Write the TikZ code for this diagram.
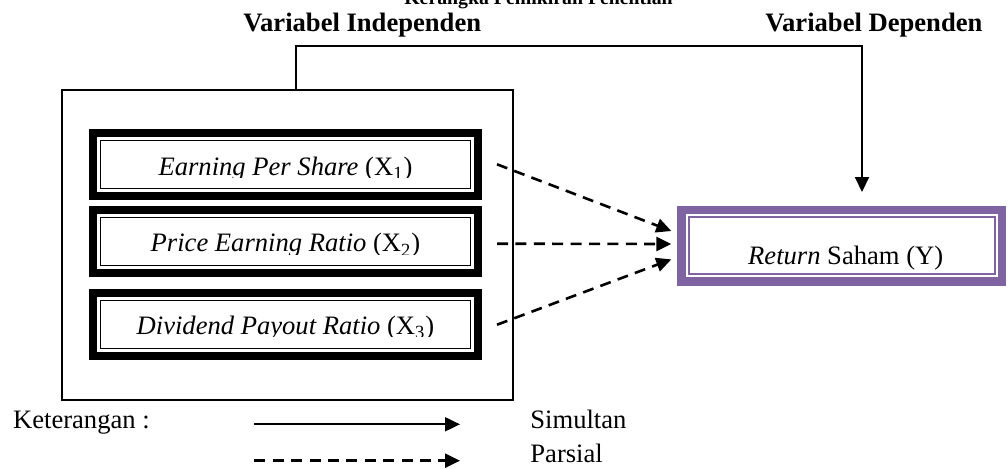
\documentclass[tikz,border=0pt]{standalone}
\usepackage{fontspec}
\setmainfont{Liberation Serif}
\usetikzlibrary{arrows.meta}

\definecolor{ungu}{RGB}{128,100,162}
\newcommand\ukuran{\fontsize{13.3}{16}\selectfont}

\begin{document}
\begin{tikzpicture}[x=0.5pt,y=0.5pt,
   teks/.style={font=\ukuran, inner sep=0pt, anchor=base west},
   tebal/.style={font=\ukuran\bfseries, inner sep=0pt, anchor=base west},
   varbox/.style={draw, line width=4pt, outer sep=0pt, inner sep=0pt,
      minimum width=192.2pt, minimum height=31.25pt},
   retbox/.style={draw=ungu, line width=4.2pt, outer sep=0pt, inner sep=0pt,
      minimum width=160.3pt, minimum height=35.8pt},
   simultan/.style={line width=1pt, -{Triangle[length=7.5pt,width=7pt]}},
   parsial/.style={line width=1.3pt, dash pattern=on 5.5pt off 3.7pt,
      -{Triangle[length=7.5pt,width=7pt]}}]
   \useasboundingbox (0,0) rectangle (1008,468);

   % headings
   \node[tebal, anchor=base, font=\fontsize{9.9}{12}\selectfont\bfseries] (judul) at (538.5,464) {Kerangka Pemikiran Penelitian};
   \node[tebal] (indeplbl) at (243,436.3) {Variabel Independen};
   \node[tebal] (deplbl) at (765,436.3) {Variabel Dependen};

   % independent variables
   \node[draw, line width=0.8pt, outer sep=0pt, minimum width=225.65pt, minimum height=155pt] (indep) at (287.35,223) {};
   \node[varbox] (eps) at (285.5,303.7) {};
   \node[varbox] (per) at (285.5,226.3) {};
   \node[varbox] (dpr) at (285.5,143.3) {};
   \foreach \b in {eps,per,dpr}
      \draw[line width=0.7pt] ([shift={(7.2,7.2)}]\b.south west) rectangle ([shift={(-7.2,-7.2)}]\b.north east);

   \foreach \b/\y/\t in {eps/293/{\textit{Earning Per Share} (X\textsubscript{1})},
                         per/216.3/{\textit{Price Earning Ratio} (X\textsubscript{2})},
                         dpr/134/{\textit{Dividend Payout Ratio} (X\textsubscript{3})}}
   {
      \begin{scope}
         \clip (\b.north west) rectangle (\b.east |- 0,\y-2.5);
         \node[teks, anchor=base] (\b-teks) at (285.5,\y) {\t};
      \end{scope}
   }

   % dependent variable
   \node[retbox] (ret) at (841.8,222.4) {};
   \draw[ungu, line width=1pt] ([shift={(7.6,7.6)}]ret.south west) rectangle ([shift={(-7.6,-7.6)}]ret.north east);
   \node[teks, anchor=base] (ret-teks) at (845.7,203.5) {\textit{Return} Saham (Y)};

   % arrows
   \coordinate (ujung) at (862,276);
   \draw[simultan] ([xshift=4.3pt]indep.north) |- (ujung |- 0,422.5) -- (ujung);
   \draw[parsial] ([shift={(19.3,0)}]eps.east) -- ([shift={(-10.2,14.6)}]ret.west);
   \draw[parsial] ([shift={(19.3,-2)}]per.east) -- ([shift={(-10.2,1.6)}]ret.west);
   \draw[parsial] ([shift={(19.3,0)}]dpr.east) -- ([shift={(-10.2,-13.8)}]ret.west);

   % legend
   \node[teks] (ket) at (12.7,39.7) {Keterangan :};
   \coordinate (s0) at (254.3,43.7);
   \coordinate (s1) at (460,43.7);
   \coordinate (p0) at (254.3,7.3);
   \coordinate (p1) at (460,7.3);
   \draw[simultan] (s0) -- (s1);
   \draw[parsial] (p0) -- (p1);
   \node[teks] (sim) at (530,39.7) {Simultan};
   \node[teks] (par) at (530,6) {Parsial};

\end{tikzpicture}
\end{document}
